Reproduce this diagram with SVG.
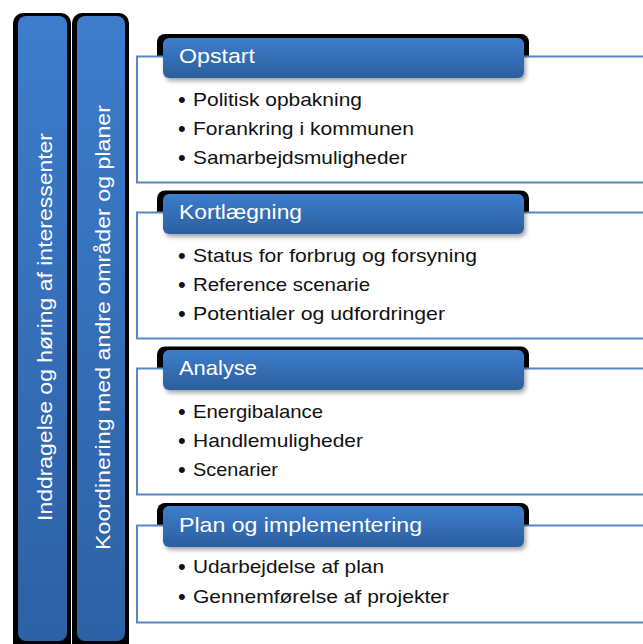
<svg xmlns="http://www.w3.org/2000/svg" width="643" height="644" viewBox="0 0 643 644">
  <defs>
    <linearGradient id="barGrad" x1="0" y1="0" x2="0" y2="1">
      <stop offset="0" stop-color="#3d7dcc"/>
      <stop offset="1" stop-color="#2d61a5"/>
    </linearGradient>
    <linearGradient id="hdrGrad" x1="0" y1="0" x2="0" y2="1">
      <stop offset="0" stop-color="#3d7ecd"/>
      <stop offset="1" stop-color="#2c5e9e"/>
    </linearGradient>
    <filter id="shadow" x="-5%" y="-30%" width="112%" height="170%">
      <feDropShadow dx="2" dy="3" stdDeviation="2" flood-color="#000" flood-opacity="0.35"/>
    </filter>
  </defs>
  <style>
    .tab { fill: #000; }
    .box { fill: #fff; stroke: #5687c6; stroke-width: 2; }
    .hdr { fill: url(#hdrGrad); filter: url(#shadow); }
    .bar { fill: url(#barGrad); }
    .htxt { font-family: "Liberation Sans", Arial, sans-serif; font-size: 21px; fill: #fff; }
    .vtxt { font-family: "Liberation Sans", Arial, sans-serif; font-size: 21px; fill: #fff; text-anchor: middle; }
    .btxt { font-family: "Liberation Sans", Arial, sans-serif; font-size: 19px; fill: #111; }
    .dot { font-family: "Liberation Sans", Arial, sans-serif; font-size: 22px; fill: #111; }
  </style>
  <rect width="643" height="644" fill="#fff"/>

  <g id="bar-inddragelse">
    <rect class="tab" x="13" y="13" width="58" height="640" rx="10"/>
    <rect class="bar" x="18" y="16" width="49" height="625" rx="8"/>
    <text class="vtxt" transform="translate(52,327) rotate(-90)" textLength="388" lengthAdjust="spacingAndGlyphs">Inddragelse og høring af interessenter</text>
  </g>

  <g id="bar-koordinering">
    <rect class="tab" x="72" y="13" width="57" height="640" rx="10"/>
    <rect class="bar" x="77" y="16" width="48" height="625" rx="8"/>
    <text class="vtxt" transform="translate(110,327.5) rotate(-90)" textLength="445" lengthAdjust="spacingAndGlyphs">Koordinering med andre områder og planer</text>
  </g>

  <g id="opstart">
    <rect class="tab" x="157" y="34" width="372" height="40" rx="8"/>
    <rect class="box" x="137" y="56.5" width="520" height="126"/>
    <rect class="hdr" x="163" y="38" width="361" height="40" rx="6"/>
    <text class="htxt" x="179" y="63" textLength="76" lengthAdjust="spacingAndGlyphs">Opstart</text>
    <text class="dot" x="178" y="107">•</text>
    <text class="btxt" x="193" y="106" textLength="169" lengthAdjust="spacingAndGlyphs">Politisk opbakning</text>
    <text class="dot" x="178" y="136">•</text>
    <text class="btxt" x="193" y="135" textLength="221" lengthAdjust="spacingAndGlyphs">Forankring i kommunen</text>
    <text class="dot" x="178" y="165">•</text>
    <text class="btxt" x="193" y="164" textLength="214" lengthAdjust="spacingAndGlyphs">Samarbejdsmuligheder</text>
  </g>

  <g id="kortlaegning">
    <rect class="tab" x="157" y="190.5" width="372" height="40" rx="8"/>
    <rect class="box" x="137" y="212.5" width="520" height="126"/>
    <rect class="hdr" x="163" y="194" width="361" height="40" rx="6"/>
    <text class="htxt" x="179" y="219" textLength="123" lengthAdjust="spacingAndGlyphs">Kortlægning</text>
    <text class="dot" x="178" y="263">•</text>
    <text class="btxt" x="193" y="262" textLength="284" lengthAdjust="spacingAndGlyphs">Status for forbrug og forsyning</text>
    <text class="dot" x="178" y="292">•</text>
    <text class="btxt" x="193" y="291" textLength="177" lengthAdjust="spacingAndGlyphs">Reference scenarie</text>
    <text class="dot" x="178" y="321">•</text>
    <text class="btxt" x="193" y="320" textLength="252" lengthAdjust="spacingAndGlyphs">Potentialer og udfordringer</text>
  </g>

  <g id="analyse">
    <rect class="tab" x="157" y="346.5" width="372" height="40" rx="8"/>
    <rect class="box" x="137" y="368.5" width="520" height="126"/>
    <rect class="hdr" x="163" y="350" width="361" height="40" rx="6"/>
    <text class="htxt" x="179" y="375" textLength="78" lengthAdjust="spacingAndGlyphs">Analyse</text>
    <text class="dot" x="178" y="419">•</text>
    <text class="btxt" x="193" y="418" textLength="130" lengthAdjust="spacingAndGlyphs">Energibalance</text>
    <text class="dot" x="178" y="448">•</text>
    <text class="btxt" x="193" y="447" textLength="170" lengthAdjust="spacingAndGlyphs">Handlemuligheder</text>
    <text class="dot" x="178" y="477">•</text>
    <text class="btxt" x="193" y="476" textLength="85" lengthAdjust="spacingAndGlyphs">Scenarier</text>
  </g>

  <g id="plan-og-implementering">
    <rect class="tab" x="157" y="503" width="372" height="40" rx="8"/>
    <rect class="box" x="137" y="525.5" width="520" height="97"/>
    <rect class="hdr" x="163" y="506" width="361" height="41" rx="6"/>
    <text class="htxt" x="179" y="532" textLength="243" lengthAdjust="spacingAndGlyphs">Plan og implementering</text>
    <text class="dot" x="178" y="574">•</text>
    <text class="btxt" x="193" y="573" textLength="191" lengthAdjust="spacingAndGlyphs">Udarbejdelse af plan</text>
    <text class="dot" x="178" y="604">•</text>
    <text class="btxt" x="193" y="603" textLength="256" lengthAdjust="spacingAndGlyphs">Gennemførelse af projekter</text>
  </g>
</svg>
